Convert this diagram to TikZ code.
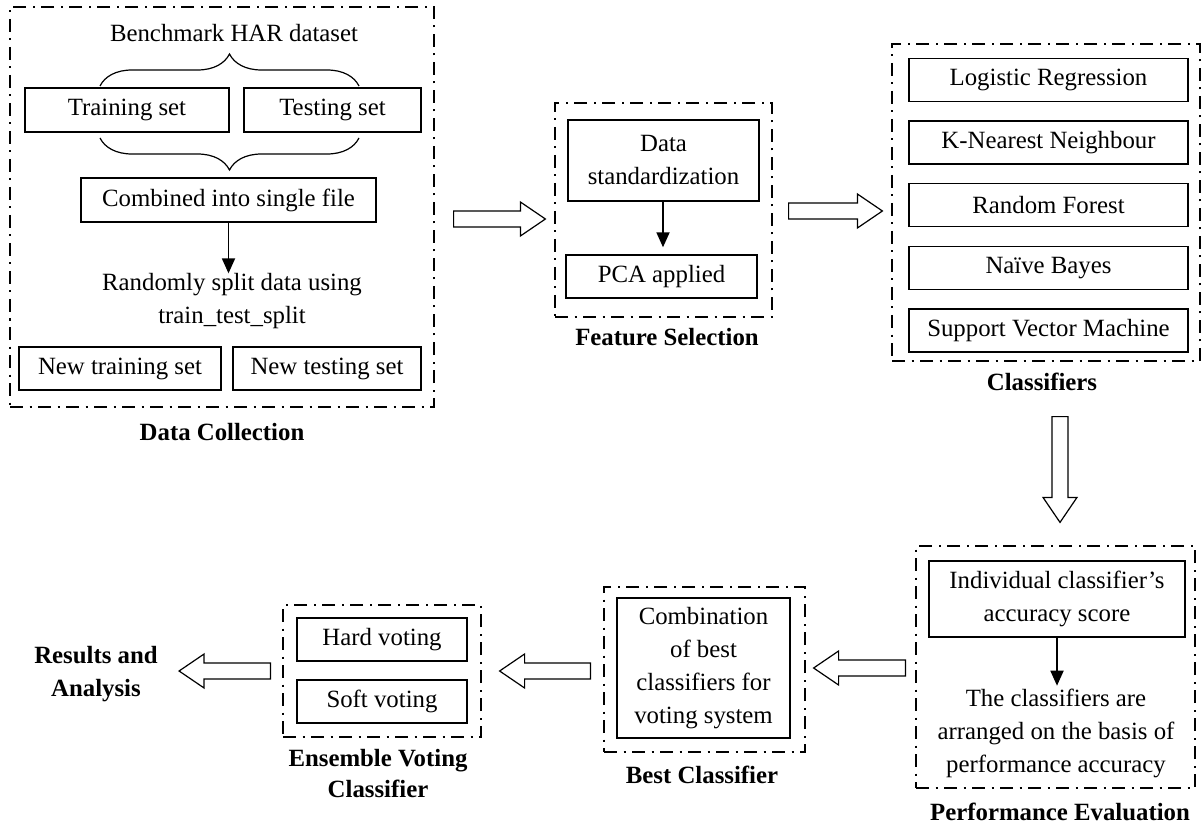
\documentclass[tikz,border=0pt]{standalone}
\usepackage{fontspec}
\setmainfont{Liberation Serif}
\usetikzlibrary{arrows.meta,calc,decorations.pathreplacing}

\tikzset{
	box/.style={rectangle,draw,line width=0.7pt,inner sep=0pt,align=center},
	group/.style={rectangle,draw,line width=0.6pt,inner sep=0pt,
		dash pattern=on 6.5pt off 3.25pt on 1pt off 3.25pt},
	title/.style={font=\fontsize{12.4}{16.5}\selectfont\bfseries,align=center,inner sep=0pt},
	txt/.style={align=center,inner sep=0pt},
	flow/.style={line width=0.9pt,-{Triangle[length=7.5pt,width=6.5pt]}},
	curly/.style={line width=0.6pt,decorate,decoration={brace,amplitude=16pt}},
	% hollow block arrow between two points
	blockarrow/.style={draw,line width=0.6pt,to path={
		($(\tikztostart)!4pt!90:(\tikztotarget)$)
		-- ($(\tikztotarget)!12.5pt!(\tikztostart)!4pt!90:(\tikztotarget)$)
		-- ($(\tikztotarget)!12.5pt!(\tikztostart)!8.5pt!90:(\tikztotarget)$)
		-- (\tikztotarget)
		-- ($(\tikztotarget)!12.5pt!(\tikztostart)!8.5pt!-90:(\tikztotarget)$)
		-- ($(\tikztotarget)!12.5pt!(\tikztostart)!4pt!-90:(\tikztotarget)$)
		-- ($(\tikztostart)!4pt!-90:(\tikztotarget)$)
		-- cycle}},
}

\begin{document}
\begin{tikzpicture}[x=0.5pt,y=-0.5pt,font=\fontsize{12.4}{16.5}\selectfont]
	\useasboundingbox (0,0) rectangle (1203,823);

	% Data Collection
	\node (dc) at (222,207) [group,minimum width=212pt,minimum height=200pt] {};
	\node (bench) at (234,33) [txt] {Benchmark HAR dataset};
	\node (train) at (127,110) [box,minimum width=102pt,minimum height=22pt] {Training set};
	\node (test) at (332.5,110) [box,minimum width=88.5pt,minimum height=22pt] {Testing set};
	\draw [curly] (100,86) -- (359,86);
	\draw [curly] (359,138) -- (100,138);
	\node (comb) at (228.5,200) [box,minimum width=147.5pt,minimum height=22pt] {Combined into single file};
	\node (split) at (232,301.5) [txt] {Randomly split data using\\train\_test\_split};
	\node (newtrain) at (120,368.5) [box,minimum width=101pt,minimum height=21.5pt] {New training set};
	\node (newtest) at (327,368.5) [box,minimum width=94pt,minimum height=21.5pt] {New testing set};
	\node (dclab) at (222,432) [title] {Data Collection};
	\draw [flow] (comb.south) -- (comb.south |- split.north);

	% Feature Selection
	\node (fs) at (663.5,210) [group,minimum width=108.5pt,minimum height=107pt] {};
	\node (std) at (663.5,160.5) [box,minimum width=95.5pt,minimum height=40.5pt] {Data\\standardization};
	\node (pca) at (661.5,276.5) [box,minimum width=95.5pt,minimum height=21.5pt] {PCA applied};
	\node (fslab) at (667,337) [title] {Feature Selection};
	\draw [flow,shorten >=3.5pt] (std.south -| 663,0) -- (pca.north -| 663,0);

	% Classifiers
	\node (cl) at (1046,202.5) [group,minimum width=154pt,minimum height=158.5pt] {};
	\foreach \name/\label [count=\i from 0] in {lr/Logistic Regression,knn/K-Nearest Neighbour,
		rf/Random Forest,nb/Naïve Bayes,svm/Support Vector Machine}
		\node (\name) at (1048.5,80+62.6*\i) [box,minimum width=139.5pt,minimum height=21.5pt] {\label};
	\node (cllab) at (1042,382) [title] {Classifiers};

	% Performance Evaluation
	\node (pe) at (1055.5,667) [group,minimum width=139.5pt,minimum height=121pt] {};
	\node (acc) at (1057,599) [box,minimum width=128pt,minimum height=38pt] {Individual classifier’s\\accuracy score};
	\node (rank) at (1056,733) [txt] {The classifiers are\\arranged on the basis of\\performance accuracy};
	\node (pelab) at (1060,812) [title] {Performance Evaluation};
	\draw [flow] (acc.south) -- ++(0,48);

	% Best Classifier
	\node (bc) at (704.5,669.5) [group,minimum width=100.5pt,minimum height=82.5pt] {};
	\node (best) at (703.5,668) [box,minimum width=86.5pt,minimum height=70pt] {Combination\\of best\\classifiers for\\voting system};
	\node (bclab) at (702,775) [title] {Best Classifier};

	% Ensemble Voting Classifier
	\node (ev) at (382,671) [group,minimum width=99pt,minimum height=66pt] {};
	\node (hard) at (382,639.5) [box,minimum width=85pt,minimum height=21.5pt] {Hard voting};
	\node (soft) at (382,701.5) [box,minimum width=85pt,minimum height=21.5pt] {Soft voting};
	\node (evlab) at (378,773.5) [title,font=\fontsize{12.4}{15.5}\selectfont\bfseries] {Ensemble Voting\\Classifier};
	\node (res) at (96,674) [title] {Results and\\Analysis};

	% block arrows between the stages
	\coordinate (a1s) at ([shift={(19,12)}]dc.east);
	\coordinate (a1e) at ([shift={(-9,9)}]fs.west);
	\coordinate (a2s) at ([shift={(16,1)}]fs.east);
	\coordinate (a2e) at ([shift={(-9,8.5)}]cl.west);
	\coordinate (a3s) at ([shift={(14,55)}]cl.south);
	\coordinate (a3e) at ([shift={(4.5,-23)}]pe.north);
	\coordinate (a4s) at ([shift={(-10,1)}]pe.west);
	\coordinate (a4e) at ([shift={(8,-1.5)}]bc.east);
	\coordinate (a5s) at ([shift={(-13,1.5)}]bc.west);
	\coordinate (a5e) at ([shift={(18,0)}]ev.east);
	\coordinate (a6s) at ([shift={(-12,0)}]ev.west);
	\coordinate (a6e) at ([shift={(21,-3)}]res.east);
	\foreach \s/\e in {a1s/a1e,a2s/a2e,a3s/a3e,a4s/a4e,a5s/a5e,a6s/a6e}
		\draw [blockarrow] (\s) to (\e);
\end{tikzpicture}
\end{document}
